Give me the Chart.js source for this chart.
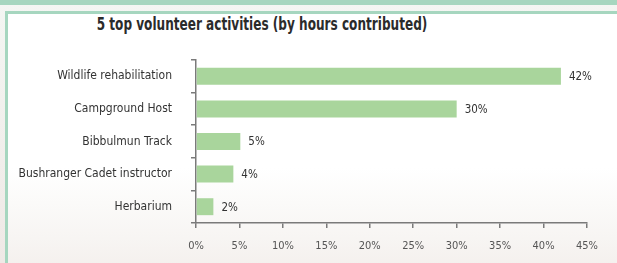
<!DOCTYPE html>
<html>
<head>
<meta charset="utf-8">
<script src="https://cdn.jsdelivr.net/npm/chart.js@4/dist/chart.umd.min.js"></script>
<style>
  html, body { margin: 0; padding: 0; }
  body { width: 617px; height: 263px; position: relative; overflow: hidden;
         background: linear-gradient(180deg, #f4f6f3 0%, #efe9e6 100%); }
  #topband { position: absolute; left: 0; top: 0; width: 617px; height: 5px; background: #a6d6bf; }
  #box { position: absolute; left: 5px; top: 11px; width: 640px; height: 280px;
         border-left: 3px solid #a6d6bf; border-top: 3px solid #a6d6bf;
         background: linear-gradient(180deg, #ffffff 0%, #ffffff 55%, #f7f5f3 80%, #f2ebe8 100%); }
  #title { position: absolute; left: 0; width: 524px; top: 14px; text-align: center;
           font-family: "DejaVu Sans Condensed", "Liberation Sans Narrow", sans-serif;
           font-weight: bold; font-size: 17px; color: #2b2b2b;
           transform: scaleX(0.79); transform-origin: 262px 0; white-space: nowrap; }
  #wrap { position: absolute; left: 0; top: 0; width: 617px; height: 263px; }
</style>
</head>
<body>
<div id="topband"></div>
<div id="box"></div>
<div id="title">5 top volunteer activities (by hours contributed)</div>
<div id="wrap"><canvas id="c" width="617" height="263"></canvas></div>
<script>
const categories = ["Wildlife rehabilitation", "Campground Host", "Bibbulmun Track", "Bushranger Cadet instructor", "Herbarium"];
const hoursShare = [42, 30, 5.1, 4.3, 2];
const tickValues = [0, 5, 10, 15, 20, 25, 30, 35, 40, 45];

const FONT = "'DejaVu Sans Condensed', 'Liberation Sans Narrow', sans-serif";

const valueLabels = {
  id: 'valueLabels',
  afterDatasetsDraw(chart) {
    const ctx = chart.ctx;
    const meta = chart.getDatasetMeta(0);
    ctx.save();
    ctx.font = "11.5px " + FONT;
    ctx.fillStyle = "#333333";
    ctx.textAlign = "left";
    ctx.textBaseline = "middle";
    meta.data.forEach((bar, i) => {
      ctx.fillText(Math.round(hoursShare[i]) + "%", bar.x + 8, bar.y + 1);
    });
    ctx.restore();
  }
};

new Chart(document.getElementById('c'), {
  type: 'bar',
  data: {
    labels: categories,
    datasets: [{
      data: hoursShare,
      backgroundColor: '#a9d59c',
      borderWidth: 0,
      categoryPercentage: 0.52,
      barPercentage: 1.0
    }]
  },
  options: {
    indexAxis: 'y',
    responsive: false,
    animation: false,
    layout: { padding: { left: 0, right: 30, top: 60, bottom: 0 } },
    plugins: { legend: { display: false }, tooltip: { enabled: false }, title: { display: false } },
    scales: {
      x: {
        min: 0, max: 45,
        afterFit(scale) { scale.height = 40; },
        afterBuildTicks(scale) { scale.ticks = tickValues.map(v => ({ value: v })); },
        border: { display: true, color: '#7a7a7a', width: 1.5 },
        grid: { drawOnChartArea: false, drawTicks: true, tickLength: 5, color: '#7a7a7a', lineWidth: 1.5 },
        ticks: {
          padding: 12,
          color: '#555555',
          font: { family: FONT, size: 11 },
          callback: (v) => v + '%'
        }
      },
      y: {
        afterFit(scale) { scale.width = 196; },
        border: { display: true, color: '#7a7a7a', width: 1.5 },
        grid: { offset: true, drawOnChartArea: false, drawTicks: true, tickLength: 5, color: '#7a7a7a', lineWidth: 1.5 },
        ticks: {
          padding: 19,
          color: '#333333',
          font: { family: FONT, size: 12 }
        }
      }
    }
  },
  plugins: [valueLabels]
});
</script>
</body>
</html>
